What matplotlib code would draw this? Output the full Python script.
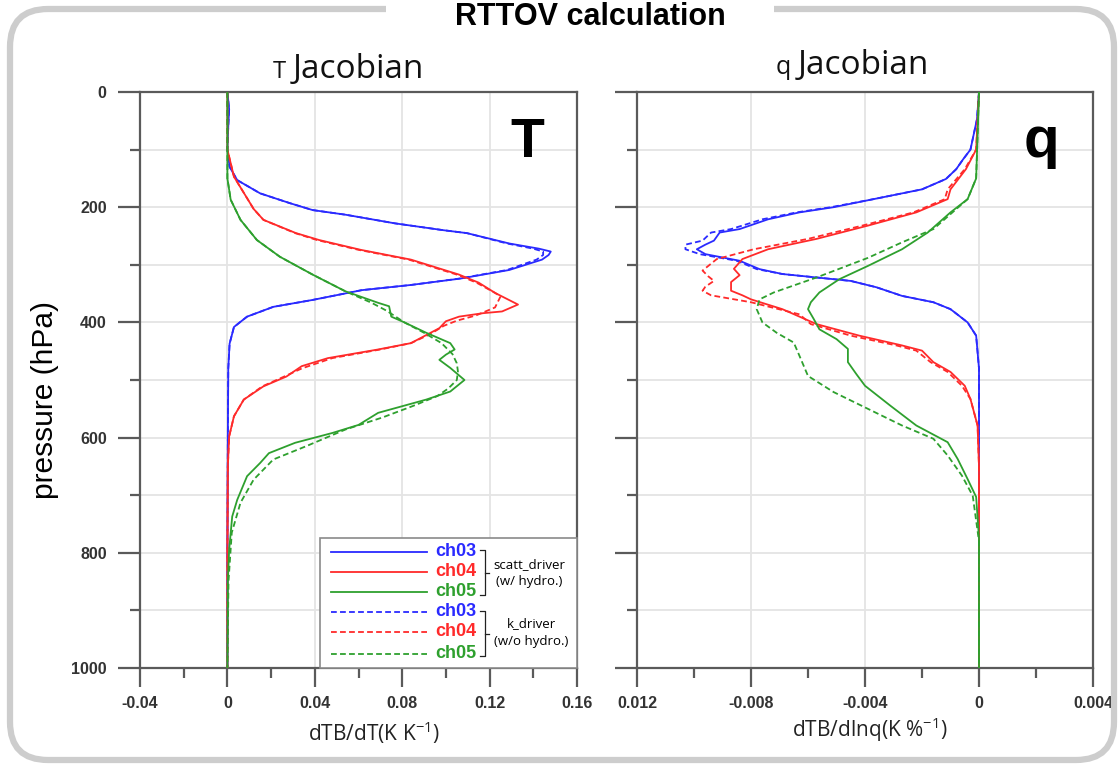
import matplotlib
matplotlib.use("Agg")
import matplotlib.pyplot as plt
from matplotlib.patches import FancyBboxPatch, Rectangle
from matplotlib.lines import Line2D
from matplotlib.transforms import IdentityTransform
from matplotlib.ticker import MultipleLocator, FixedLocator

# ---------------- data ----------------
channels = ["ch03", "ch04", "ch05"]
colors = ["#2a2aff", "#ff2a2a", "#2ea02e"]

# T Jacobian (dTB/dT), pressure in hPa
tj_p_ch03 = [0, 30, 60, 100, 130, 153, 176, 193, 205, 213, 228, 240, 245, 263, 272, 277, 283, 291, 309, 324, 335, 344, 361, 373, 390, 408, 437, 480, 600, 800, 1000]
tj_ch03_scatt = [0.0, 0.0008, 0.0004, 0.0, 0.001, 0.0045, 0.015, 0.0286, 0.039, 0.054, 0.0766, 0.099, 0.1096, 0.129, 0.1426, 0.148, 0.147, 0.144, 0.129, 0.1065, 0.084, 0.0615, 0.039, 0.021, 0.009, 0.003, 0.001, 0.0004, 0.0002, 0.0, 0.0]
tj_ch03_k = [0.0, 0.0008, 0.0004, 0.0, 0.001, 0.0045, 0.015, 0.0286, 0.039, 0.054, 0.0766, 0.099, 0.1096, 0.128, 0.140, 0.1445, 0.1445, 0.1415, 0.128, 0.106, 0.084, 0.0615, 0.039, 0.021, 0.009, 0.003, 0.001, 0.0004, 0.0002, 0.0, 0.0]

tj_p_ch04_scatt = [0, 100, 147, 175, 203, 222, 245, 257, 274, 291, 317, 331, 349, 369, 381, 384, 390, 398, 410, 436, 447, 462, 476, 494, 511, 534, 563, 598, 650, 800, 1000]
tj_ch04_scatt = [0.0, 0.0, 0.003, 0.0075, 0.012, 0.0165, 0.0314, 0.042, 0.061, 0.084, 0.106, 0.115, 0.1226, 0.133, 0.1257, 0.117, 0.106, 0.100, 0.097, 0.084, 0.069, 0.046, 0.034, 0.027, 0.0165, 0.0075, 0.003, 0.0008, 0.0002, 0.0, 0.0]
tj_p_ch04_k = [0, 100, 147, 175, 203, 222, 245, 257, 274, 291, 317, 331, 349, 355, 374, 388, 397, 406, 420, 436, 447, 462, 480, 494, 511, 534, 563, 598, 650, 800, 1000]
tj_ch04_k = [0.0, 0.0, 0.003, 0.0075, 0.012, 0.0165, 0.031, 0.041, 0.060, 0.083, 0.105, 0.114, 0.1226, 0.125, 0.1225, 0.1137, 0.105, 0.099, 0.093, 0.084, 0.070, 0.048, 0.034, 0.026, 0.016, 0.0075, 0.003, 0.0008, 0.0002, 0.0, 0.0]

tj_p_ch05_scatt = [0, 150, 187, 222, 257, 286, 317, 346, 366, 372, 381, 390, 400, 418, 436, 447, 456, 465, 479, 500, 520, 534, 557, 578, 592, 609, 627, 644, 667, 708, 737, 795, 850, 1000]
tj_ch05_scatt = [0.0, 0.0, 0.0015, 0.006, 0.0135, 0.024, 0.039, 0.054, 0.069, 0.074, 0.0745, 0.075, 0.081, 0.091, 0.102, 0.104, 0.100, 0.097, 0.102, 0.1085, 0.102, 0.091, 0.069, 0.060, 0.048, 0.031, 0.019, 0.015, 0.009, 0.0045, 0.0022, 0.0008, 0.0002, 0.0]
tj_p_ch05_k = [0, 150, 187, 222, 257, 286, 317, 346, 366, 380, 400, 418, 436, 455, 471, 485, 500, 515, 528, 545, 565, 586, 615, 638, 673, 713, 765, 850, 1000]
tj_ch05_k = [0.0, 0.0, 0.0015, 0.006, 0.0135, 0.024, 0.039, 0.054, 0.066, 0.073, 0.081, 0.090, 0.098, 0.103, 0.105, 0.1055, 0.105, 0.101, 0.096, 0.085, 0.071, 0.054, 0.036, 0.021, 0.012, 0.006, 0.002, 0.0005, 0.0]

# q Jacobian (dTB/dlnq)
qj_p_ch03 = [0, 47, 100, 117, 134, 151, 169, 186, 200, 209, 221, 238, 244, 258, 265, 273, 281.5, 293, 307.5, 316, 322, 328, 339, 354, 365, 377, 400, 423, 480, 1000]
qj_ch03_scatt = [0.0, -0.00007, -0.0003, -0.00056, -0.0008, -0.00116, -0.002, -0.0037, -0.0051, -0.0063, -0.0074, -0.0084, -0.0091, -0.0093, -0.0096, -0.0099, -0.0096, -0.0084, -0.0077, -0.0069, -0.0057, -0.0045, -0.0036, -0.0027, -0.0016, -0.001, -0.0004, -0.0001, 0.0, 0.0]
qj_ch03_k = [0.0, -0.00007, -0.0003, -0.00056, -0.0008, -0.00116, -0.002, -0.0037, -0.0052, -0.0064, -0.0076, -0.0087, -0.0094, -0.0097, -0.0103, -0.0103, -0.0098, -0.0085, -0.0078, -0.0069, -0.0057, -0.0045, -0.0036, -0.0027, -0.0016, -0.001, -0.0004, -0.0001, 0.0, 0.0]

qj_p_ch04_scatt = [0, 100, 134, 169, 186, 209, 232, 255, 273, 290, 307, 318, 330, 345, 353, 360, 377, 403, 423, 440, 449, 469, 486, 510, 533, 579, 650, 1000]
qj_ch04_scatt = [0.0, -0.0001, -0.00046, -0.001, -0.0011, -0.0022, -0.0039, -0.0057, -0.0074, -0.0083, -0.0086, -0.0084, -0.0087, -0.0087, -0.0083, -0.008, -0.0069, -0.0057, -0.0042, -0.0027, -0.002, -0.0016, -0.001, -0.0005, -0.0003, -0.00005, 0.0, 0.0]
qj_p_ch04_k = [0, 100, 134, 169, 186, 209, 232, 255, 273, 290, 310, 320, 328, 338, 345, 353, 365, 386, 403, 423, 440, 449, 469, 486, 510, 533, 579, 650, 1000]
qj_ch04_k = [0.0, -0.0001, -0.0005, -0.0011, -0.0012, -0.0023, -0.0041, -0.006, -0.0079, -0.0092, -0.0097, -0.0095, -0.0093, -0.0096, -0.0097, -0.0094, -0.008, -0.0063, -0.0059, -0.0045, -0.0029, -0.0022, -0.0017, -0.0011, -0.0006, -0.0003, -0.00005, 0.0, 0.0]

qj_p_ch05_scatt = [0, 150, 186, 209, 244, 273, 302, 325, 348, 365, 377, 394, 412, 429, 446, 469, 490, 510, 545, 579, 608, 637, 672, 703, 775, 1000]
qj_ch05_scatt = [0.0, -0.0001, -0.0004, -0.001, -0.0018, -0.0027, -0.0039, -0.0049, -0.0056, -0.0059, -0.006, -0.0058, -0.0056, -0.005, -0.0046, -0.0046, -0.0043, -0.004, -0.0031, -0.0022, -0.0011, -0.00075, -0.0004, -0.0001, 0.0, 0.0]
qj_p_ch05_k = [0, 150, 186, 238, 261, 288, 322, 348, 360, 377, 400, 418, 435, 458, 493, 521, 550, 579, 602, 631, 666, 701, 780, 1000]
qj_ch05_k = [0.0, -0.0001, -0.0004, -0.0016, -0.0027, -0.0039, -0.0057, -0.0072, -0.0077, -0.0078, -0.0076, -0.0071, -0.0065, -0.0063, -0.006, -0.0051, -0.0039, -0.0027, -0.0016, -0.0011, -0.0006, -0.00022, 0.0, 0.0]

t_xticks = [-0.04, 0.0, 0.04, 0.08, 0.12, 0.16]
t_xticklabels = ["-0.04", "0", "0.04", "0.08", "0.12", "0.16"]
q_xticks = [-0.012, -0.008, -0.004, 0.0, 0.004]
q_xticklabels = ["0.012", "-0.008", "-0.004", "0", "0.004"]
p_ticks = [0, 200, 400, 600, 800, 1000]
p_ticklabels = ["0", "200", "400", "600", "800", "1000"]

# ---------------- figure ----------------
W, H = 1119, 766
fig = plt.figure(figsize=(W / 100, H / 100), dpi=100)
fig.patch.set_facecolor("white")

def fx(x):
    return x / W

def fy(y):
    return 1 - y / H

arial = ["Liberation Sans", "DejaVu Sans"]
spine_c = "#5a5a5a"
grid_c = "#e4e4e4"

ax1 = fig.add_axes([fx(140), fy(668), (577 - 140) / W, (668 - 92) / H])
ax2 = fig.add_axes([fx(637), fy(668), (1093 - 637) / W, (668 - 92) / H])

solid_lw = 1.3
dash = (0, (3.2, 1.8))

tj_sets = [
    (tj_p_ch03, tj_ch03_scatt, tj_p_ch03, tj_ch03_k),
    (tj_p_ch04_scatt, tj_ch04_scatt, tj_p_ch04_k, tj_ch04_k),
    (tj_p_ch05_scatt, tj_ch05_scatt, tj_p_ch05_k, tj_ch05_k),
]
qj_sets = [
    (qj_p_ch03, qj_ch03_scatt, qj_p_ch03, qj_ch03_k),
    (qj_p_ch04_scatt, qj_ch04_scatt, qj_p_ch04_k, qj_ch04_k),
    (qj_p_ch05_scatt, qj_ch05_scatt, qj_p_ch05_k, qj_ch05_k),
]

for ax, sets in ((ax1, tj_sets), (ax2, qj_sets)):
    for (ps, vs, pk, vk), c in zip(sets, colors):
        ax.plot(vk, pk, color=c, lw=solid_lw, ls=dash, zorder=3)
        ax.plot(vs, ps, color=c, lw=solid_lw, ls="-", zorder=3)

for ax in (ax1, ax2):
    ax.set_ylim(1000, 0)
    ax.yaxis.set_major_locator(FixedLocator(p_ticks))
    ax.yaxis.set_minor_locator(MultipleLocator(100))
    ax.grid(which="major", axis="x", color=grid_c, lw=1.3, zorder=0)
    ax.grid(which="both", axis="y", color=grid_c, lw=1.3, zorder=0)
    for s in ax.spines.values():
        s.set_color(spine_c)
        s.set_linewidth(1.6)
    ax.tick_params(which="major", direction="out", length=16, width=1.6, color=spine_c)
    ax.tick_params(which="minor", direction="out", length=7, width=1.6, color=spine_c)
    ax.tick_params(axis="x", which="major", length=14, pad=6)
    ax.set_axisbelow(True)

ax1.set_xlim(-0.04, 0.16)
ax1.set_xticks(t_xticks)
ax1.set_xticklabels(t_xticklabels)
ax1.xaxis.set_minor_locator(MultipleLocator(0.02))
ax1.set_yticklabels(p_ticklabels)
ax1.tick_params(axis="y", which="major", pad=8)

ax2.set_xlim(-0.012, 0.004)
ax2.set_xticks(q_xticks)
ax2.set_xticklabels(q_xticklabels)
ax2.xaxis.set_minor_locator(MultipleLocator(0.002))
ax2.set_yticklabels([])

for ax in (ax1, ax2):
    for lab in ax.get_xticklabels() + ax.get_yticklabels():
        lab.set_fontfamily(arial)
        lab.set_fontweight("bold")
        lab.set_fontsize(11.5)
        lab.set_color("#333333")

# ---------------- texts ----------------
fig.text(fx(45), fy(400), "pressure (hPa)", rotation=90, ha="center", va="center",
         fontsize=21.5, family=arial)

tfam = ["Open Sans", "DejaVu Sans"]
fig.text(fx(374), fy(733), r"dTB/dT(K K$^{\mathregular{-1}}$)", ha="center", va="center",
         fontsize=15, family=tfam, color="#222222")
fig.text(fx(870), fy(730), r"dTB/dlnq(K %$^{\mathregular{-1}}$)", ha="center", va="center",
         fontsize=15, family=tfam, color="#222222")

fig.text(fx(286), fy(78), "T", ha="right", va="baseline", fontsize=17, family=tfam, color="#111111")
fig.text(fx(293), fy(78), "Jacobian", ha="left", va="baseline", fontsize=24, family=tfam, color="#111111")
fig.text(fx(791), fy(74), "q", ha="right", va="baseline", fontsize=18, family=tfam, color="#111111")
fig.text(fx(798), fy(74), "Jacobian", ha="left", va="baseline", fontsize=24, family=tfam, color="#111111")

fig.text(fx(527), fy(157), "T", ha="center", va="baseline", fontsize=40, fontweight="bold",
         family=arial, color="black")
fig.text(fx(1041), fy(157), "q", ha="center", va="baseline", fontsize=42, fontweight="bold",
         family=arial, color="black")

# outer rounded frame and title
frame = FancyBboxPatch((10, 6), 1104, 751, boxstyle="round,pad=0,rounding_size=38",
                       transform=IdentityTransform(), fill=False, edgecolor="#cdcdcd", lw=4.5)
fig.add_artist(frame)
gap = Rectangle((386, H - 30), 388, 30, transform=IdentityTransform(), facecolor="white",
                edgecolor="none", zorder=5)
fig.add_artist(gap)
fig.text(fx(590), fy(25), "RTTOV calculation", ha="center", va="baseline", fontsize=22,
         fontweight="bold", family=arial, zorder=6)

# ---------------- legend (manual) ----------------
leg_box = Rectangle((fx(320), fy(668)), fx(577) - fx(320), fy(538) - fy(668),
                    transform=fig.transFigure, facecolor="white", edgecolor="#8a8a8a", lw=1.2, zorder=10)
fig.add_artist(leg_box)
rows_y = [552, 572, 592, 612, 632, 654]
styles = ["-", "-", "-", dash, dash, dash]
for i, y in enumerate(rows_y):
    c = colors[i % 3]
    fig.add_artist(Line2D([fx(331), fx(427)], [fy(y), fy(y)], transform=fig.transFigure,
                          color=c, lw=solid_lw, ls=styles[i], zorder=11))
    fig.text(fx(435), fy(y), channels[i % 3], ha="left", va="center", fontsize=13,
             fontweight="bold", color=c, family=arial, zorder=11)

for y0, y1 in ((550, 595), (611, 656)):
    xs = [fx(480), fx(485), fx(485), fx(480)]
    ys = [fy(y0), fy(y0), fy(y1), fy(y1)]
    fig.add_artist(Line2D(xs, ys, transform=fig.transFigure, color="#222222", lw=0.9, zorder=11))
    ym = (y0 + y1) / 2
    fig.add_artist(Line2D([fx(485), fx(489)], [fy(ym), fy(ym)], transform=fig.transFigure,
                          color="#222222", lw=0.9, zorder=11))

fig.text(fx(529), fy(565), "scatt_driver", ha="center", va="center", fontsize=9.5, family=tfam, zorder=11)
fig.text(fx(529), fy(582), "(w/ hydro.)", ha="center", va="center", fontsize=9.5, family=tfam, zorder=11)
fig.text(fx(531), fy(624), "k_driver", ha="center", va="center", fontsize=9.5, family=tfam, zorder=11)
fig.text(fx(531), fy(642), "(w/o hydro.)", ha="center", va="center", fontsize=9.5, family=tfam, zorder=11)

fig.savefig("out.png", dpi=100)
